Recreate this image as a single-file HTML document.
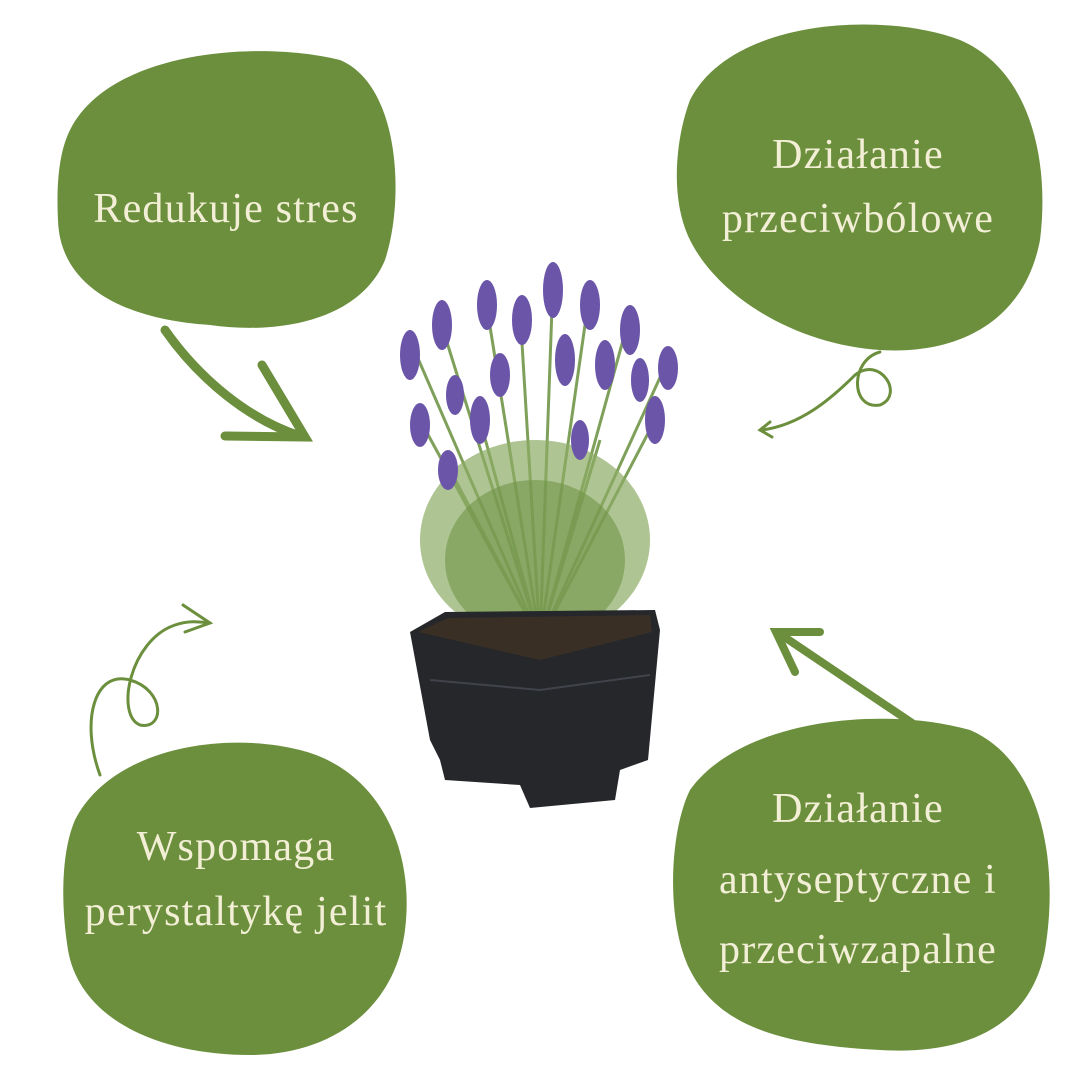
<!DOCTYPE html>
<html><head><meta charset="utf-8"><style>
html,body{margin:0;padding:0;background:#fff;}
svg{display:block}
text{font-family:"Liberation Serif",serif;fill:#f3efd6;font-size:42px;letter-spacing:1.2px;text-anchor:middle}
</style></head><body>
<svg width="1080" height="1080" viewBox="0 0 1080 1080" xmlns="http://www.w3.org/2000/svg">
<g fill="#6b8f3c">
<path d="M70 130 C110 50 260 40 340 60 C400 85 405 200 385 260 C360 320 280 335 210 325 C130 320 60 290 58 220 C56 180 60 150 70 130Z"/>
<path d="M690 100 C730 20 880 10 960 40 C1030 70 1050 160 1040 240 C1025 320 960 355 880 350 C800 345 720 300 690 240 C670 200 675 140 690 100Z"/>
<path d="M75 820 C110 750 220 730 300 750 C380 770 415 850 405 930 C395 1010 330 1055 250 1055 C160 1055 80 1020 68 950 C60 900 62 850 75 820Z"/>
<path d="M690 790 C740 720 880 705 970 730 C1040 760 1060 860 1045 950 C1030 1030 960 1055 880 1050 C790 1045 720 1030 690 970 C665 920 670 830 690 790Z"/>
</g>
<g fill="none" stroke="#6b8f3c" stroke-linecap="round">
<path d="M165 330 C200 380 250 420 300 436" stroke-width="9"/>
<path d="M225 436 L305 437 L262 365" stroke-width="9"/>
<path d="M915 725 L780 634" stroke-width="8"/>
<path d="M820 632 L776 632 L795 672" stroke-width="8"/>
<path d="M880 352 C850 360 850 410 880 405 C905 395 880 355 855 375 C830 400 800 425 762 430" stroke-width="3"/>
<path d="M770 422 L760 430 L772 437" stroke-width="3"/>
<path d="M100 775 C80 720 95 670 130 680 C165 690 165 730 140 725 C115 715 130 640 175 625 C190 620 200 622 210 623" stroke-width="3"/>
<path d="M183 605 L210 623 L185 632" stroke-width="3"/>
</g>
<text x="226" y="222">Redukuje stres</text>
<text x="858" y="168">Działanie</text>
<text x="858" y="232">przeciwbólowe</text>
<text x="236" y="860">Wspomaga</text>
<text x="236" y="925">perystaltykę jelit</text>
<text x="858" y="822">Działanie</text>
<text x="858" y="893">antyseptyczne i</text>
<text x="858" y="963">przeciwzapalne</text>
<g stroke="#7fa05a" stroke-width="3" fill="none">
<path d="M540 640 L410 340 M540 640 L440 320 M540 640 L485 295 M540 640 L520 310 M540 640 L553 280 M540 640 L590 290 M540 640 L630 315 M540 640 L668 360 M540 640 L420 420 M540 640 L450 470 M540 640 L655 420 M540 640 L600 440 M540 640 L480 420"/>
</g>
<ellipse cx="535" cy="540" rx="115" ry="100" fill="#8cab64" opacity="0.7"/>
<ellipse cx="535" cy="560" rx="90" ry="80" fill="#6f9448" opacity="0.6"/>
<g fill="#6a55a8">
<ellipse cx="410" cy="355" rx="10" ry="25"/><ellipse cx="442" cy="325" rx="10" ry="25"/><ellipse cx="487" cy="305" rx="10" ry="25"/><ellipse cx="522" cy="320" rx="10" ry="25"/><ellipse cx="553" cy="290" rx="10" ry="28"/><ellipse cx="590" cy="305" rx="10" ry="25"/><ellipse cx="630" cy="330" rx="10" ry="25"/><ellipse cx="668" cy="368" rx="10" ry="22"/><ellipse cx="420" cy="425" rx="10" ry="22"/><ellipse cx="448" cy="470" rx="10" ry="20"/><ellipse cx="655" cy="420" rx="10" ry="24"/><ellipse cx="605" cy="365" rx="10" ry="25"/><ellipse cx="480" cy="420" rx="10" ry="24"/><ellipse cx="565" cy="360" rx="10" ry="26"/><ellipse cx="500" cy="375" rx="10" ry="22"/><ellipse cx="580" cy="440" rx="9" ry="20"/><ellipse cx="640" cy="380" rx="9" ry="22"/><ellipse cx="455" cy="395" rx="9" ry="20"/>
</g>
<path d="M410 632 L445 612 L655 610 L660 630 L648 760 L620 770 L615 800 L530 808 L520 785 L445 780 L440 760 L430 740 Z" fill="#25272a"/>
<path d="M418 632 L448 618 L650 615 L652 632 L540 660 Z" fill="#3a2f25"/>
<path d="M430 680 L540 690 L650 675" stroke="#40444a" stroke-width="2" fill="none"/>
</svg>
</body></html>
